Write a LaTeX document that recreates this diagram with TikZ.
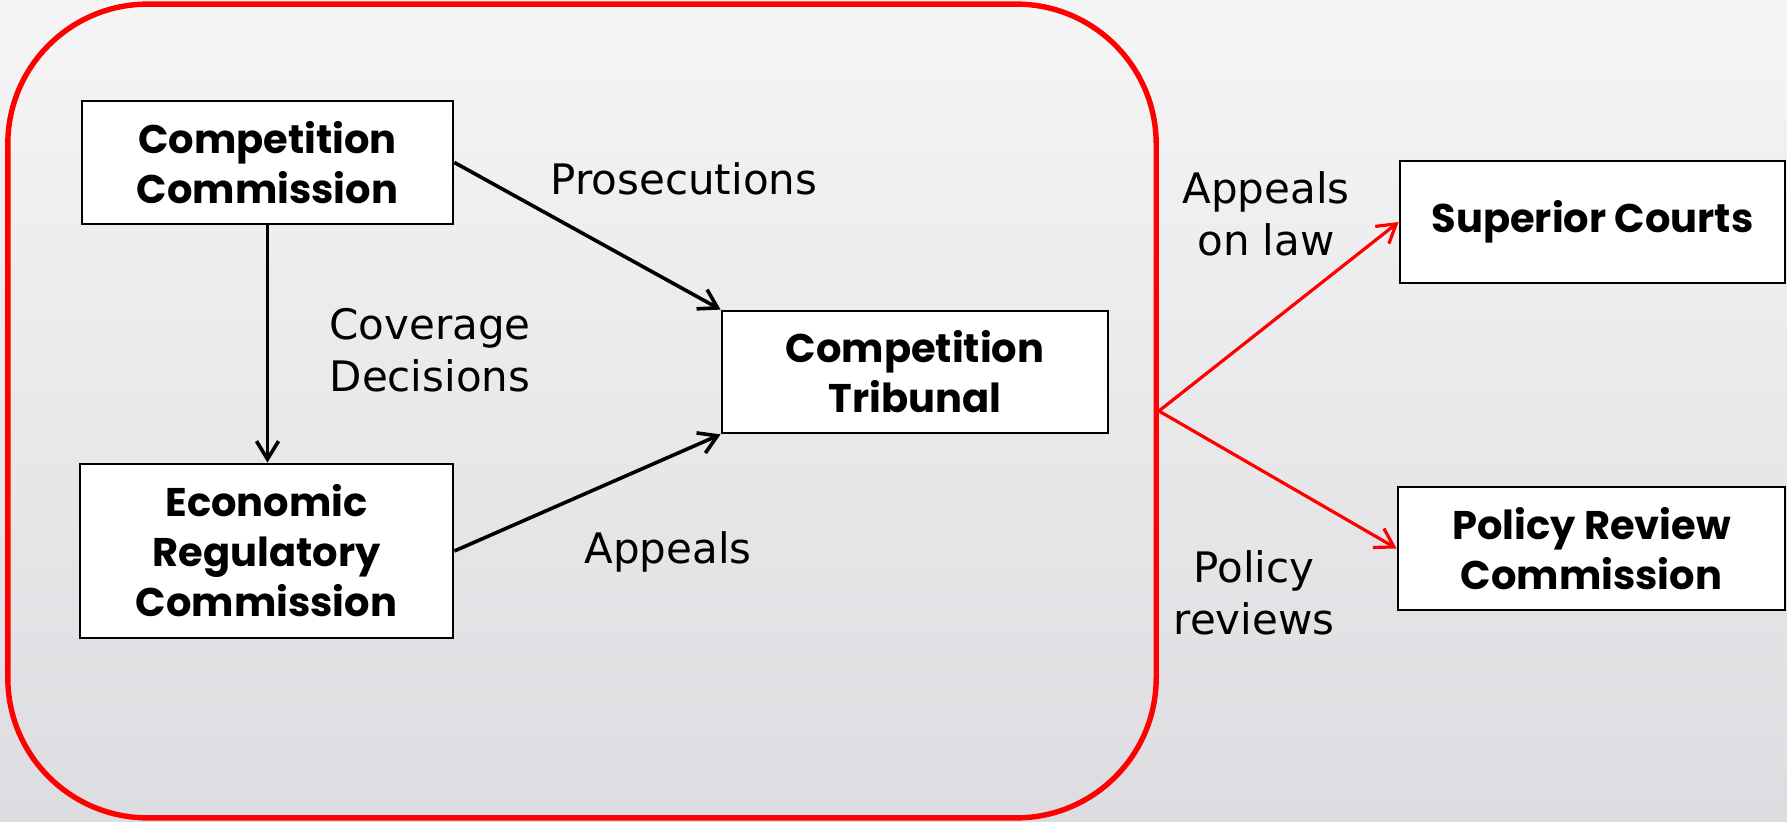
\documentclass[tikz,border=0pt]{standalone}
\usepackage{fontspec}
\setmainfont{DejaVu Sans}
\newfontfamily\boxfont{Poppins}
\usetikzlibrary{arrows.meta}
\definecolor{bgtop}{HTML}{F5F5F6}
\definecolor{bgbot}{HTML}{DDDDE1}
\definecolor{framered}{HTML}{FF0000}
\begin{document}
\begin{tikzpicture}[x=0.5pt,y=-0.5pt,
  box/.style={draw=black, line width=1.4pt, fill=white, inner sep=0pt, align=center,
    font=\boxfont\bfseries\fontsize{20}{25}\selectfont},
  lbl/.style={font=\fontsize{21}{26}\selectfont, align=center, inner sep=0pt, anchor=base},
  arr/.style={line width=1.8pt, -{Straight Barb[length=9pt,width=11pt]}},
  rarr/.style={draw=framered, line width=1.6pt, -{Straight Barb[length=9pt,width=11pt]}},
]
\useasboundingbox (0,0) rectangle (1787,822);
\shade[top color=bgtop, bottom color=bgbot] (0,0) rectangle (1787,822);
\node[draw=framered, line width=2.7pt, rounded corners=70pt, minimum width=574.2pt,
  minimum height=406.9pt, inner sep=0pt] (frame) at (582,411) {};
\node[box, minimum width=185.5pt, minimum height=61.5pt] (cc) at (267.5,162.5) {Competition\\Commission};
\node[box, minimum width=186.5pt, minimum height=87pt] (erc) at (266.5,551) {Economic\\Regulatory\\Commission};
\node[box, minimum width=193pt, minimum height=61pt] (ct) at (915,372) {Competition\\Tribunal};
\node[box, minimum width=192.5pt, minimum height=61pt] (sc) at (1592.5,222) {Superior Courts};
\node[box, minimum width=193.5pt, minimum height=61.5pt] (prc) at (1591.5,548.5) {Policy Review\\Commission};
\draw[arr] (cc.south) -- (cc.south |- erc.north);
\draw[arr] (cc.east) -- (ct.north west);
\draw[arr] (erc.east) -- (ct.south west);
\draw[rarr] (frame.east) -- (sc.west);
\draw[rarr] (frame.east) -- (prc.west);
\node[lbl] (pros) at (684,195) {Prosecutions};
\node[lbl] (cov) at (430,392) {Coverage\\Decisions};
\node[lbl] (app) at (668,564) {Appeals};
\node[lbl] (apl) at (1266,256) {Appeals\\on law};
\node[lbl] (pol) at (1254,635) {Policy\\reviews};
\end{tikzpicture}
\end{document}
